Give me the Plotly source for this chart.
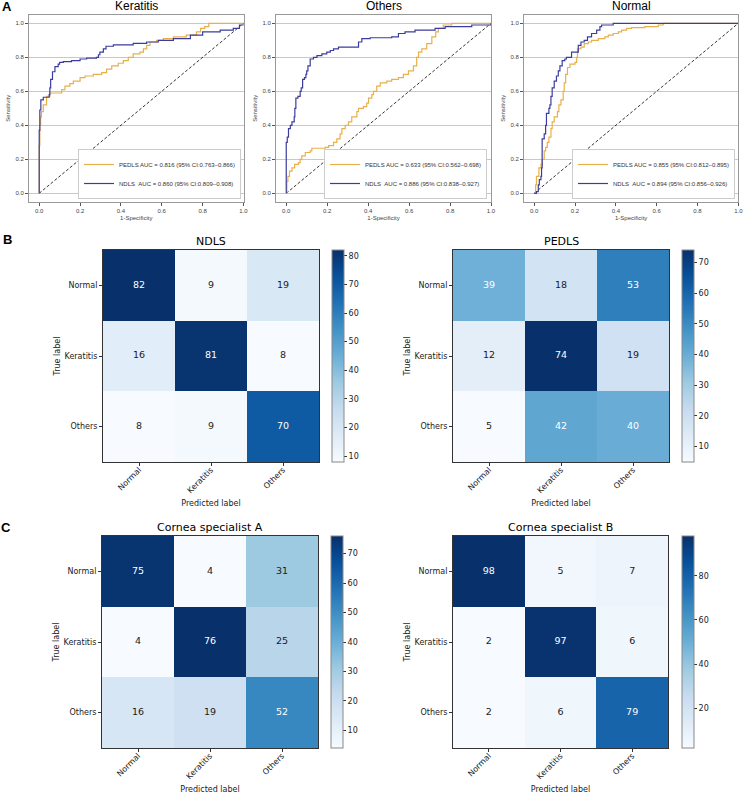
import plotly.graph_objects as go

W, H = 747, 796

# ---------------- data ----------------
classes = ["Normal", "Keratitis", "Others"]
roc_titles = ["Keratitis", "Others", "Normal"]

# ROC curves (1-specificity, sensitivity)
ker_pedls_fpr = [0, 0, 0.003, 0.007, 0.011, 0.02, 0.036, 0.052, 0.093, 0.11, 0.126, 0.15, 0.167, 0.2, 0.224, 0.265, 0.306, 0.33, 0.355, 0.387, 0.412, 0.436, 0.46, 0.493, 0.51, 0.526, 0.542, 0.575, 0.608, 0.657, 0.72, 0.77, 0.79, 0.81, 0.83, 1.0]
ker_pedls_tpr = [0, 0.28, 0.40, 0.45, 0.48, 0.52, 0.57, 0.59, 0.59, 0.61, 0.63, 0.645, 0.66, 0.68, 0.69, 0.70, 0.71, 0.73, 0.75, 0.765, 0.78, 0.80, 0.82, 0.83, 0.85, 0.87, 0.89, 0.90, 0.91, 0.92, 0.93, 0.95, 0.97, 0.98, 1.0, 1.0]
ker_ndls_fpr = [0, 0, 0.003, 0.008, 0.02, 0.049, 0.052, 0.056, 0.065, 0.077, 0.093, 0.10, 0.118, 0.158, 0.20, 0.232, 0.28, 0.29, 0.297, 0.314, 0.327, 0.363, 0.46, 0.526, 0.583, 0.657, 0.74, 0.80, 0.886, 0.95, 0.98, 1.0]
ker_ndls_tpr = [0, 0.37, 0.49, 0.55, 0.565, 0.58, 0.62, 0.67, 0.715, 0.745, 0.76, 0.77, 0.775, 0.78, 0.79, 0.795, 0.80, 0.815, 0.83, 0.85, 0.865, 0.873, 0.882, 0.89, 0.90, 0.91, 0.93, 0.95, 0.96, 0.97, 0.99, 1.0]

oth_pedls_fpr = [0, 0.003, 0.008, 0.016, 0.028, 0.041, 0.06, 0.068, 0.076, 0.093, 0.117, 0.125, 0.19, 0.207, 0.231, 0.247, 0.263, 0.272, 0.288, 0.304, 0.32, 0.345, 0.353, 0.377, 0.393, 0.402, 0.418, 0.426, 0.442, 0.459, 0.491, 0.515, 0.548, 0.572, 0.597, 0.621, 0.637, 0.646, 0.662, 0.686, 0.711, 0.73, 0.743, 0.767, 0.808, 1.0]
oth_pedls_tpr = [0, 0.07, 0.10, 0.13, 0.15, 0.17, 0.18, 0.20, 0.22, 0.24, 0.25, 0.265, 0.27, 0.28, 0.30, 0.32, 0.35, 0.38, 0.40, 0.42, 0.45, 0.48, 0.50, 0.51, 0.53, 0.56, 0.58, 0.60, 0.63, 0.65, 0.66, 0.67, 0.68, 0.70, 0.72, 0.75, 0.80, 0.83, 0.85, 0.88, 0.92, 0.95, 0.97, 0.99, 1.0, 1.0]
oth_ndls_fpr = [0, 0, 0.005, 0.011, 0.02, 0.028, 0.039, 0.042, 0.047, 0.057, 0.068, 0.073, 0.08, 0.089, 0.096, 0.10, 0.106, 0.117, 0.133, 0.15, 0.174, 0.198, 0.215, 0.231, 0.255, 0.337, 0.353, 0.369, 0.41, 0.515, 0.548, 0.58, 0.629, 0.727, 0.776, 0.906, 1.0]
oth_ndls_tpr = [0, 0.30, 0.33, 0.38, 0.40, 0.42, 0.45, 0.50, 0.56, 0.57, 0.60, 0.62, 0.67, 0.68, 0.70, 0.72, 0.75, 0.79, 0.80, 0.81, 0.82, 0.83, 0.84, 0.85, 0.86, 0.86, 0.89, 0.91, 0.915, 0.92, 0.94, 0.95, 0.96, 0.97, 0.98, 0.99, 1.0]

nor_pedls_fpr = [0, 0.007, 0.011, 0.023, 0.033, 0.039, 0.049, 0.056, 0.064, 0.072, 0.082, 0.088, 0.098, 0.114, 0.121, 0.131, 0.142, 0.147, 0.154, 0.163, 0.175, 0.2, 0.208, 0.212, 0.229, 0.245, 0.265, 0.281, 0.314, 0.346, 0.363, 0.387, 0.412, 0.428, 0.453, 0.477, 0.542, 0.59, 0.608, 0.632, 1.0]
nor_pedls_tpr = [0, 0.05, 0.10, 0.15, 0.17, 0.20, 0.25, 0.27, 0.30, 0.33, 0.38, 0.42, 0.45, 0.48, 0.52, 0.55, 0.60, 0.65, 0.70, 0.74, 0.76, 0.77, 0.80, 0.85, 0.86, 0.88, 0.89, 0.90, 0.91, 0.92, 0.93, 0.94, 0.95, 0.96, 0.97, 0.975, 0.98, 0.98, 0.99, 1.0, 1.0]
nor_ndls_fpr = [0, 0.011, 0.02, 0.025, 0.033, 0.036, 0.039, 0.049, 0.056, 0.06, 0.072, 0.077, 0.082, 0.088, 0.098, 0.109, 0.118, 0.126, 0.137, 0.15, 0.158, 0.183, 0.208, 0.216, 0.229, 0.245, 0.261, 0.281, 0.306, 0.322, 0.33, 0.387, 1.0]
nor_ndls_tpr = [0, 0.01, 0.05, 0.08, 0.10, 0.15, 0.32, 0.35, 0.40, 0.47, 0.50, 0.52, 0.57, 0.62, 0.66, 0.69, 0.72, 0.75, 0.78, 0.79, 0.80, 0.83, 0.83, 0.87, 0.89, 0.90, 0.92, 0.94, 0.96, 0.98, 0.99, 1.0, 1.0]

chance = [0, 1]

pedls_labels = [
    "PEDLS AUC = 0.816 (95% CI:0.763\u20130.866)",
    "PEDLS AUC = 0.633 (95% CI:0.562\u20130.698)",
    "PEDLS AUC = 0.855 (95% CI:0.812\u20130.895)",
]
ndls_labels = [
    "NDLS \u00a0AUC = 0.860 (95% CI:0.809\u20130.908)",
    "NDLS \u00a0AUC = 0.886 (95% CI:0.838\u20130.927)",
    "NDLS \u00a0AUC = 0.894 (95% CI:0.856\u20130.926)",
]

cm_titles = ["NDLS", "PEDLS", "Cornea specialist A", "Cornea specialist B"]
cm_ndls = [[82, 9, 19], [16, 81, 8], [8, 9, 70]]
cm_pedls = [[39, 18, 53], [12, 74, 19], [5, 42, 40]]
cm_spec_a = [[75, 4, 31], [4, 76, 25], [16, 19, 52]]
cm_spec_b = [[98, 5, 7], [2, 97, 6], [2, 6, 79]]
cb_dtick = [10, 10, 10, 20]

roc_ticks = [0.0, 0.2, 0.4, 0.6, 0.8, 1.0]

# ---------------- styling / layout ----------------
GOLD = "#e8b04a"
BLUE = "#3c3c9e"
blues = ['#f7fbff', '#deebf7', '#c6dbef', '#9ecae1', '#6baed6',
         '#4292c6', '#2171b5', '#08519c', '#08306b']
blues_scale = [[i / 8, c] for i, c in enumerate(blues)]
ROC_FONT = "Liberation Sans, Arial, sans-serif"
CM_FONT = "DejaVu Sans, sans-serif"


def xdom(l, r):
    return [l / W, r / W]


def ydom(t, b):
    return [1 - b / H, 1 - t / H]


roc_boxes = [(29, 243.5), (276, 491), (524, 738.3)]
roc_top, roc_bottom = 14.8, 201.8
legend_right = [241, 487, 735]
legend_bottom = 199

cm_boxes = [(103, 319, 250, 462), (453, 669, 250, 462),
            (102, 318, 536, 748), (453, 668, 536, 748)]
cb_left = [332, 682, 331, 682]

fig = go.Figure()
layout = dict(
    template="none",
    width=W, height=H, autosize=False,
    margin=dict(l=0, r=0, t=0, b=0, pad=0),
    paper_bgcolor="white", plot_bgcolor="white",
    font=dict(family=CM_FONT, color="#222"),
)
annotations = []

roc_data = [
    (ker_pedls_fpr, ker_pedls_tpr, ker_ndls_fpr, ker_ndls_tpr),
    (oth_pedls_fpr, oth_pedls_tpr, oth_ndls_fpr, oth_ndls_tpr),
    (nor_pedls_fpr, nor_pedls_tpr, nor_ndls_fpr, nor_ndls_tpr),
]

for i, (pf, pt, nf, nt) in enumerate(roc_data):
    k = i + 1
    sfx = "" if k == 1 else str(k)
    xa, ya = "x" + sfx, "y" + sfx
    leg = "legend" + sfx
    fig.add_trace(go.Scatter(x=chance, y=chance, mode="lines", xaxis=xa, yaxis=ya,
                             line=dict(color="black", width=0.8, dash="3px,2px"),
                             showlegend=False, hoverinfo="skip"))
    fig.add_trace(go.Scatter(x=pf, y=pt, mode="lines", xaxis=xa, yaxis=ya,
                             line=dict(color=GOLD, width=1.2, shape="hv"),
                             name=pedls_labels[i], legend=leg))
    fig.add_trace(go.Scatter(x=nf, y=nt, mode="lines", xaxis=xa, yaxis=ya,
                             line=dict(color=BLUE, width=1.2, shape="hv"),
                             name=ndls_labels[i], legend=leg))
    l, r = roc_boxes[i]
    layout["xaxis" + sfx] = dict(
        domain=xdom(l, r), anchor=ya, range=[-0.05, 1.0], automargin=False,
        tickvals=roc_ticks, tickformat=".1f", ticks="outside", ticklen=3,
        tickcolor="#555", tickfont=dict(size=6, family=ROC_FONT, color="#444"),
        showline=True, mirror=True, linecolor="#999", linewidth=1,
        showgrid=False, zeroline=False,
        title=dict(text="1-Specificity", font=dict(size=6, family=ROC_FONT, color="#444"), standoff=2),
    )
    layout["yaxis" + sfx] = dict(
        domain=ydom(roc_top, roc_bottom), anchor=xa, range=[-0.05, 1.05], automargin=False,
        tickvals=roc_ticks, tickformat=".1f", ticks="outside", ticklen=3,
        tickcolor="#555", tickfont=dict(size=6, family=ROC_FONT, color="#444"),
        showline=True, mirror=True, linecolor="#999", linewidth=1,
        showgrid=True, gridcolor="#c8c8c8", gridwidth=1, zeroline=False,
        title=dict(text="Sensitivity", font=dict(size=6, family=ROC_FONT, color="#444"), standoff=4),
    )
    layout[leg] = dict(
        x=legend_right[i] / W, xanchor="right",
        y=1 - legend_bottom / H, yanchor="bottom",
        bgcolor="white", bordercolor="#cccccc", borderwidth=1,
        font=dict(size=6, family=ROC_FONT, color="#333"),
        itemwidth=30, tracegroupgap=0,
    )
    annotations.append(dict(
        text=roc_titles[i], xref="paper", yref="paper",
        x=(l + r) / 2 / W, y=1 - 6.5 / H, xanchor="center", yanchor="middle",
        showarrow=False, font=dict(size=12, family=ROC_FONT, color="black")))

cms = [cm_ndls, cm_pedls, cm_spec_a, cm_spec_b]
for j, cm in enumerate(cms):
    k = j + 4
    sfx = str(k)
    xa, ya = "x" + sfx, "y" + sfx
    l, r, t, b = cm_boxes[j]
    flat = [v for row in cm for v in row]
    zmin, zmax = min(flat), max(flat)
    fig.add_trace(go.Heatmap(
        z=cm, x=classes, y=classes, xaxis=xa, yaxis=ya,
        colorscale=blues_scale, zmin=zmin, zmax=zmax, hoverinfo="skip",
        colorbar=dict(
            x=cb_left[j] / W, xanchor="left", y=1 - t / H, yanchor="top",
            len=(b - t) / H, lenmode="fraction", thickness=12, thicknessmode="pixels",
            xpad=0, ypad=0, outlinewidth=1, outlinecolor="#888",
            ticks="outside", ticklen=3, tickwidth=1, tickcolor="#333",
            tickfont=dict(size=8, family=CM_FONT, color="#222"),
            tick0=0, dtick=cb_dtick[j],
        ),
    ))
    thresh = zmax / 2
    xs, ys, txt, cols = [], [], [], []
    for ri, row in enumerate(cm):
        for ci, v in enumerate(row):
            xs.append(classes[ci])
            ys.append(classes[ri])
            txt.append(str(v))
            cols.append("white" if v > thresh else "#1a1a1a")
    fig.add_trace(go.Scatter(
        x=xs, y=ys, text=txt, mode="text", xaxis=xa, yaxis=ya,
        textfont=dict(size=9.5, family=CM_FONT, color=cols),
        showlegend=False, hoverinfo="skip"))
    layout["xaxis" + sfx] = dict(
        domain=xdom(l, r), anchor=ya, type="category", automargin=False,
        categoryorder="array", categoryarray=classes, range=[-0.5, 2.5],
        tickangle=-45, ticks="outside", ticklen=3, tickcolor="#333",
        ticklabelstandoff=-4,
        tickfont=dict(size=8, family=CM_FONT, color="#222"),
        showline=True, mirror=True, linecolor="#333", linewidth=1,
        showgrid=False, zeroline=False,
        title=dict(text="Predicted label", font=dict(size=8, family=CM_FONT, color="#222"), standoff=6),
    )
    layout["yaxis" + sfx] = dict(
        domain=ydom(t, b), anchor=xa, type="category", automargin=False,
        categoryorder="array", categoryarray=classes, range=[2.5, -0.5],
        ticks="outside", ticklen=3, tickcolor="#333",
        tickfont=dict(size=8, family=CM_FONT, color="#222"),
        showline=True, mirror=True, linecolor="#333", linewidth=1,
        showgrid=False, zeroline=False,
        title=dict(text="True label", font=dict(size=8, family=CM_FONT, color="#222"), standoff=2),
    )
    annotations.append(dict(
        text=cm_titles[j], xref="paper", yref="paper",
        x=(l + r) / 2 / W, y=1 - (t - 8.5) / H, xanchor="center", yanchor="middle",
        showarrow=False, font=dict(size=11, family=CM_FONT, color="black")))

panel_labels = ["A", "B", "C"]
panel_pos = [(7, 7), (7, 240), (6, 527)]
for lab, (px, py) in zip(panel_labels, panel_pos):
    annotations.append(dict(
        text="<b>" + lab + "</b>", xref="paper", yref="paper",
        x=px / W, y=1 - py / H, xanchor="center", yanchor="middle",
        showarrow=False, font=dict(size=13, family=ROC_FONT, color="black")))

layout["annotations"] = annotations
fig.update_layout(**layout)
fig.write_html("out.html",
               config={"displayModeBar": False},
               post_script="document.body.style.margin='0';document.body.style.overflow='hidden';")
